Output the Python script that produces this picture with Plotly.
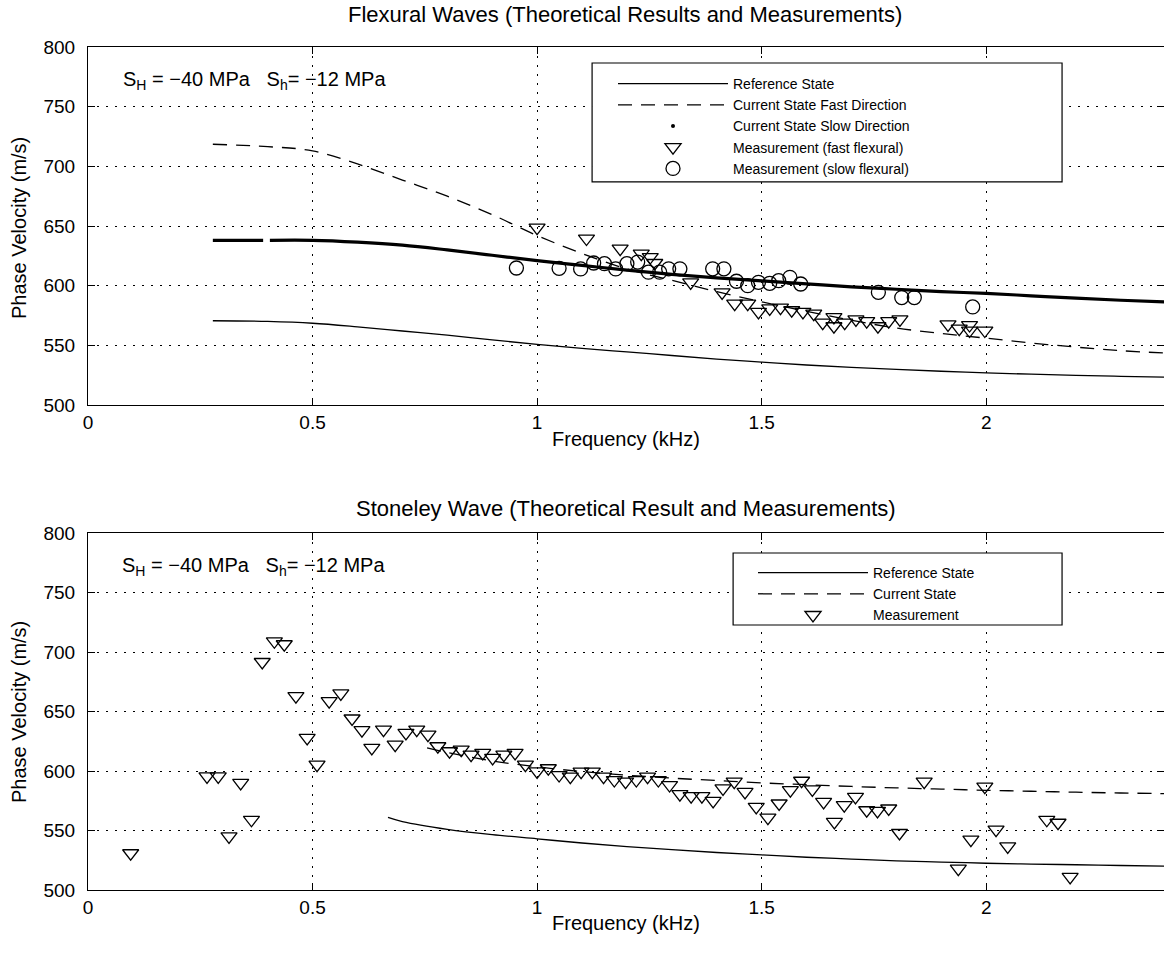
import plotly.graph_objects as go
from plotly.subplots import make_subplots

# ---------------- data: top panel (flexural waves) ----------------
flex_ref_x = [0.278, 0.4, 0.5, 0.6, 0.7, 0.8, 0.9, 1.0, 1.1, 1.2, 1.3, 1.4, 1.5, 1.6, 1.7, 1.8, 1.9, 2.0, 2.1, 2.2, 2.3, 2.4]
flex_ref_y = [570.6, 570, 568.5, 565.5, 562, 558.5, 554.5, 550.8, 547.5, 544.5, 541.5, 538.5, 536, 533.5, 531.5, 529.8, 528.3, 527, 525.8, 524.8, 524, 523.3]

flex_fast_x = [0.278, 0.4, 0.5, 0.6, 0.7, 0.8, 0.9, 1.0, 1.1, 1.2, 1.3, 1.4, 1.5, 1.6, 1.7, 1.8, 1.9, 2.0, 2.1, 2.2, 2.3, 2.4]
flex_fast_y = [718.5, 716.5, 713, 702, 688.5, 675, 659.5, 642, 627, 614, 604.5, 595, 586.5, 578.5, 571, 564.5, 560, 556, 552, 548.5, 545.5, 543.5]

flex_slow_x = [0.278, 0.39, None, 0.405, 0.5, 0.6, 0.7, 0.8, 0.9, 1.0, 1.1, 1.2, 1.3, 1.4, 1.5, 1.6, 1.7, 1.8, 1.9, 2.0, 2.1, 2.2, 2.3, 2.4]
flex_slow_y = [638, 638, None, 638, 638, 636.5, 634, 630, 625.5, 621, 617, 613, 609.5, 606.5, 604, 601.5, 599, 597, 595, 593.5, 591.5, 589.5, 587.8, 586.3]

meas_fast_x = [1.0, 1.11, 1.185, 1.232, 1.252, 1.262, 1.342, 1.412, 1.44, 1.469, 1.493, 1.518, 1.542, 1.567,
               1.592, 1.616, 1.636, 1.661, 1.661, 1.685, 1.71, 1.734, 1.759, 1.783, 1.808, 1.915, 1.94, 1.963,
               1.963, 1.997]
meas_fast_y = [648.6, 639.5, 631, 626.8, 624, 619, 602.8, 594.4, 585, 585, 578, 581, 581.6, 579.4,
               578, 576.6, 569, 573.7, 566, 569, 571.8, 570.3, 566, 570.3, 571.8, 567.5, 564, 562.4,
               567, 562.4]

meas_slow_x = [0.954, 1.049, 1.097, 1.126, 1.15, 1.175, 1.2, 1.224, 1.248, 1.273, 1.293, 1.318, 1.391, 1.416,
               1.444, 1.469, 1.493, 1.518, 1.538, 1.563, 1.587, 1.76, 1.812, 1.84, 1.97]
meas_slow_y = [614.8, 614.5, 614, 619, 618.4, 614, 618.4, 619.8, 611.3, 611.3, 614.1, 614.1, 614.1, 614.1,
               603.7, 600, 602.8, 602, 604.2, 607, 601.4, 594.4, 590, 590, 582.2]

# ---------------- data: bottom panel (Stoneley wave) ----------------
st_ref_x = [0.668, 0.7, 0.8, 0.9, 1.0, 1.1, 1.2, 1.3, 1.4, 1.5, 1.6, 1.7, 1.8, 1.9, 2.0, 2.1, 2.2, 2.3, 2.4]
st_ref_y = [561, 557.5, 551, 546.5, 543, 539.5, 536.5, 534, 531.5, 529.5, 527.5, 526, 524.5, 523.5, 522.5, 521.8, 521.2, 520.6, 520]

st_cur_x = [0.755, 0.8, 0.9, 1.0, 1.1, 1.2, 1.3, 1.4, 1.5, 1.6, 1.7, 1.8, 1.9, 2.0, 2.1, 2.2, 2.3, 2.4]
st_cur_y = [619.5, 615.5, 608.5, 603.5, 599.5, 596.5, 594, 592, 590, 588.5, 587, 585.8, 584.8, 583.8, 583, 582.2, 581.5, 581]

st_meas_x = [0.095, 0.265, 0.29, 0.314, 0.34, 0.364, 0.388, 0.415, 0.437, 0.463, 0.488, 0.51, 0.537, 0.563,
             0.588, 0.61, 0.632, 0.658, 0.684, 0.708, 0.732, 0.757, 0.779, 0.805, 0.831, 0.853, 0.879, 0.901,
             0.926, 0.951, 0.974, 1.0, 1.025, 1.049, 1.074, 1.098, 1.123, 1.148, 1.172, 1.197, 1.221, 1.246,
             1.27, 1.295, 1.318, 1.343, 1.367, 1.392, 1.414, 1.439, 1.463, 1.488, 1.514, 1.539, 1.564, 1.589,
             1.613, 1.638, 1.662, 1.684, 1.709, 1.734, 1.758, 1.783, 1.807, 1.862, 1.938, 1.966, 1.997, 2.022,
             2.048, 2.135, 2.16, 2.187]
st_meas_y = [530.9, 595.5, 595.5, 545, 590, 559, 691.6, 709, 706.5, 662.9, 627.8, 605.3, 658.7, 665.2,
             644.1, 634.3, 619.4, 634.8, 622.2, 632, 634.8, 630.6, 620.8, 616.6, 618, 613.8, 615.2, 611,
             613.8, 615.2, 605.3, 599.7, 602.3, 596.6, 595.2, 599.4, 599.4, 595.2, 592.4, 591, 592.4, 595.2,
             592.4, 588.2, 580.6, 578.9, 578.9, 574.9, 585.4, 591, 582.5, 569.9, 560.8, 572.7, 583.9, 591.8,
             584.5, 574.1, 557.2, 571.3, 578.3, 567, 566.5, 568.5, 547.9, 591, 518, 542.3, 586.8, 550.7,
             536.6, 559, 556.5, 511]

x_ticks = [0, 0.5, 1, 1.5, 2]
x_tick_text = ["0", "0.5", "1", "1.5", "2"]
y_ticks = [500, 550, 600, 650, 700, 750, 800]

# ---------------- figure ----------------
W, H = 1164, 957
ML, MR, MT, MB = 88, 0, 47, 67
PW, PH = W - ML - MR, H - MT - MB
X_MAX = 2.396


def px(xp):
    return (xp - ML) / PW


def py(yp):
    return (H - MB - yp) / PH


FONT = "Liberation Sans, Arial, Helvetica, sans-serif"
BLACK = "black"

fig = make_subplots(rows=2, cols=1, vertical_spacing=0.0)
fig.update_layout(
    yaxis=dict(domain=[py(405), 1.0]),
    yaxis2=dict(domain=[0.0, py(533)]),
)

thin = dict(color=BLACK, width=1.3, shape="spline")
dashed = dict(color=BLACK, width=1.3, dash="14px,9px", shape="spline")
tri = dict(symbol="triangle-down-open", size=14, color=BLACK, line=dict(width=1.3, color=BLACK))
circ = dict(symbol="circle-open", size=14, color=BLACK, line=dict(width=1.3, color=BLACK))

# top traces
fig.add_trace(go.Scatter(x=flex_ref_x, y=flex_ref_y, mode="lines", line=thin,
                         name="Reference State", legend="legend"), row=1, col=1)
fig.add_trace(go.Scatter(x=flex_fast_x, y=flex_fast_y, mode="lines", line=dashed,
                         name="Current State Fast Direction", legend="legend"), row=1, col=1)
fig.add_trace(go.Scatter(x=flex_slow_x, y=flex_slow_y, mode="lines", line=dict(color=BLACK, width=3.2, shape="spline"),
                         name="Current State Slow Direction", showlegend=False, connectgaps=False), row=1, col=1)
fig.add_trace(go.Scatter(x=[None], y=[None], mode="markers", marker=dict(color=BLACK, size=4, symbol="circle"),
                         name="Current State Slow Direction", legend="legend"), row=1, col=1)
fig.add_trace(go.Scatter(x=meas_fast_x, y=meas_fast_y, mode="markers", marker=tri,
                         name="Measurement (fast flexural)", legend="legend"), row=1, col=1)
fig.add_trace(go.Scatter(x=meas_slow_x, y=meas_slow_y, mode="markers", marker=circ,
                         name="Measurement (slow flexural)", legend="legend"), row=1, col=1)

# bottom traces
fig.add_trace(go.Scatter(x=st_ref_x, y=st_ref_y, mode="lines", line=thin,
                         name="Reference State", legend="legend2"), row=2, col=1)
fig.add_trace(go.Scatter(x=st_cur_x, y=st_cur_y, mode="lines", line=dashed,
                         name="Current State", legend="legend2"), row=2, col=1)
fig.add_trace(go.Scatter(x=st_meas_x, y=st_meas_y, mode="markers", marker=tri,
                         name="Measurement", legend="legend2"), row=2, col=1)

axis_common = dict(
    showline=True, linecolor=BLACK, linewidth=1, mirror="ticks",
    ticks="inside", ticklen=7, tickcolor=BLACK, tickwidth=1,
    showgrid=True, gridcolor=BLACK, gridwidth=1, griddash="2px,7px",
    zeroline=False, tickfont=dict(family=FONT, size=19, color=BLACK),
)
for r in (1, 2):
    fig.update_xaxes(range=[0, X_MAX], tickvals=x_ticks, ticktext=x_tick_text, row=r, col=1, **axis_common)
    fig.update_yaxes(range=[500, 800], tickvals=y_ticks, row=r, col=1, ticklabelstandoff=8, **axis_common)

title_font = dict(family=FONT, size=22, color=BLACK)
label_font = dict(family=FONT, size=20, color=BLACK)
annotations = [
    dict(text="Flexural Waves (Theoretical Results and Measurements)", x=px(625), y=py(14), font=title_font),
    dict(text="Stoneley Wave (Theoretical Result and Measurements)", x=px(626), y=py(508), font=title_font),
    dict(text="Frequency (kHz)", x=px(626), y=py(439), font=label_font),
    dict(text="Frequency (kHz)", x=px(626), y=py(923), font=label_font),
    dict(text="Phase Velocity (m/s)", x=px(19), y=py(228), textangle=-90, font=label_font),
    dict(text="Phase Velocity (m/s)", x=px(19), y=py(712), textangle=-90, font=label_font),
]
for a in annotations:
    a.update(xref="paper", yref="paper", showarrow=False, xanchor="center", yanchor="middle")
stress = "S<sub>H</sub> = −40 MPa   S<sub>h</sub>= −12 MPa"
annotations += [
    dict(text=stress, x=0.0735, y=772, xref="x", yref="y",
         showarrow=False, xanchor="left", yanchor="middle", font=dict(family=FONT, size=20, color=BLACK)),
    dict(text=stress, x=0.071, y=772, xref="x2", yref="y2",
         showarrow=False, xanchor="left", yanchor="middle", font=dict(family=FONT, size=20, color=BLACK)),
]

shapes = [
    dict(type="rect", xref="x", yref="y", x0=1.1225, x1=2.169, y0=686.9, y1=786.6,
         line=dict(color=BLACK, width=1.2), fillcolor="white", layer="above"),
    dict(type="rect", xref="x2", yref="y2", x0=1.4365, x1=2.169, y0=722.7, y1=783.2,
         line=dict(color=BLACK, width=1.2), fillcolor="white", layer="above"),
]

leg_font = dict(family=FONT, size=14, color=BLACK)
fig.update_layout(
    width=W, height=H,
    margin=dict(l=ML, r=MR, t=MT, b=MB),
    paper_bgcolor="white", plot_bgcolor="white",
    annotations=annotations,
    shapes=shapes,
    legend=dict(x=px(613), y=py(68), xanchor="left", yanchor="top", bgcolor="rgba(0,0,0,0)",
                borderwidth=0, font=leg_font, itemwidth=110, tracegroupgap=0),
    legend2=dict(x=px(753), y=py(557), xanchor="left", yanchor="top", bgcolor="rgba(0,0,0,0)",
                 borderwidth=0, font=leg_font, itemwidth=110, tracegroupgap=0),
)

fig.write_html("out.html")
